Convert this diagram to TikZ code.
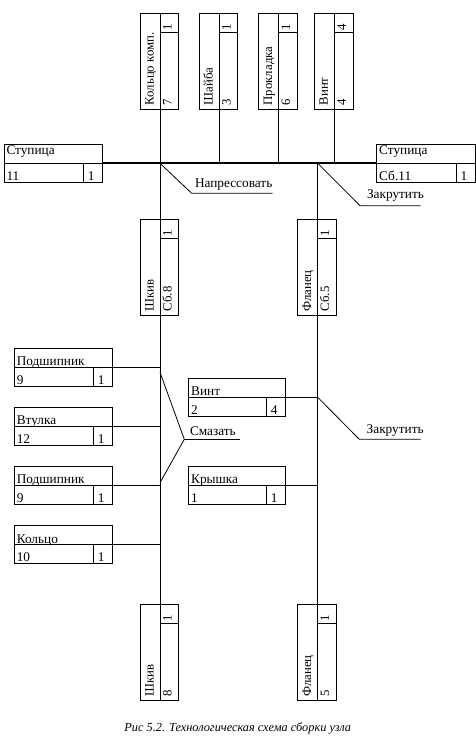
\documentclass[tikz,border=0pt]{standalone}
\usepackage{fontspec}
\setmainfont{Liberation Serif}
\tikzset{
  ln/.style={line width=0.8pt},
  thick line/.style={line width=2pt},
  txt/.style={inner sep=0pt, outer sep=0pt, font=\fontsize{13.3}{15}\selectfont},
  rtxt/.style={inner sep=0pt, outer sep=0pt, rotate=90, anchor=base west, font=\fontsize{12.8}{15}\selectfont},
  boxnode/.style={draw, ln, inner sep=0pt, outer sep=0pt, anchor=north west},
  caption/.style={inner sep=0pt, font=\fontsize{12.3}{14}\selectfont\itshape},
}
% vertical part: #1 name, #2 x of divider, #3 top y, #4 label, #5 number, #6 quantity
\newcommand{\vpart}[6]{%
  \node[boxnode, minimum width=38.7, minimum height=96] (#1) at (#2-20,#3) {};
  \coordinate (#1-top) at (#2,#3);
  \coordinate (#1-bot) at (#2,#3+96);
  \draw[ln] (#1-top) -- (#1-bot);
  \draw[ln] (#2,#3+19) -- (#2+18.7,#3+19);
  \node[rtxt] (#1-l) at (#2-6.5,#3+92) {#4};
  \node[rtxt] (#1-n) at (#2+11.5,#3+92) {#5};
  \node[rtxt] (#1-q) at (#2+11.5,#3+17.5) {#6};
}
% horizontal part: #1 name, #2 left x, #3 top y, #4 right x, #5 label, #6 number, #7 quantity, #8 label baseline offset
\newcommand{\hpart}[8]{%
  \node[boxnode, minimum width={#4-#2}, minimum height=38] (#1) at (#2,#3) {};
  \draw[ln] (#1.west) -- (#1.east);
  \draw[ln] (#4-18.5,#3+19) -- (#4-18.5,#3+38);
  \node[txt, anchor=base west] (#1-l) at (#2+2.5,#3+#8) {#5};
  \node[txt, anchor=base west] (#1-n) at (#2+2.5,#3+36) {#6};
  \node[txt, anchor=base west] (#1-q) at (#4-14.5,#3+36) {#7};
}
\begin{document}
\begin{tikzpicture}[x=1pt, y=-1pt]
  \useasboundingbox (0,0) rectangle (476,744);
  % top row of parts
  \vpart{kk}{160}{13.3}{Кольцо комп.}{7}{1}
  \vpart{sh}{219}{13.3}{Шайба}{3}{1}
  \vpart{pr}{278.7}{13.3}{Прокладка}{6}{1}
  \vpart{vt}{334.3}{13.3}{Винт}{4}{4}
  % hubs
  \hpart{stL}{4}{144.3}{102.3}{Ступица}{11}{1}{10.5}
  \hpart{stR}{376.7}{144.3}{475}{Ступица}{Сб.11}{1}{10.5}
  % sub-assemblies
  \vpart{sk1}{160}{219.3}{Шкив}{Сб.8}{1}
  \vpart{fl1}{317.7}{219.3}{Фланец}{Сб.5}{1}
  \vpart{sk2}{160}{604.3}{Шкив}{8}{1}
  \vpart{fl2}{317.7}{604.3}{Фланец}{5}{1}
  % left parts
  \hpart{pd1}{14.3}{348.3}{112.3}{Подшипник}{9}{1}{17.5}
  \hpart{vtl}{14.3}{407.3}{112.3}{Втулка}{12}{1}{17.5}
  \hpart{pd2}{14.3}{466.3}{112.3}{Подшипник}{9}{1}{17.5}
  \hpart{klc}{14.3}{525.7}{112.3}{Кольцо}{10}{1}{17.5}
  % right parts
  \hpart{vt2}{188.7}{378.3}{285.3}{Винт}{2}{4}{17.5}
  \hpart{kr}{188.7}{466.3}{285.3}{Крышка}{1}{1}{17.5}
  % main line
  \draw[thick line] (stL.east) -- (stR.west);
  \coordinate (jL) at (kk-bot |- stL.east);
  \coordinate (jR) at (fl1-top |- stL.east);
  % vertical trunks
  \draw[ln] (kk-bot) -- (sk1-top);
  \draw[ln] (sh-bot) -- (sh-bot |- stL.east);
  \draw[ln] (pr-bot) -- (pr-bot |- stL.east);
  \draw[ln] (vt-bot) -- (vt-bot |- stL.east);
  \draw[ln] (jR) -- (fl1-top);
  \draw[ln] (sk1-bot) -- (sk2-top);
  \draw[ln] (fl1-bot) -- (fl2-top);
  % side connectors
  \draw[ln] (pd1.east) -- (pd1.east -| sk1-bot);
  \draw[ln] (vtl.east) -- (vtl.east -| sk1-bot);
  \draw[ln] (pd2.east) -- (pd2.east -| sk1-bot);
  \draw[ln] (klc.east) -- (klc.east -| sk1-bot);
  \draw[ln] (vt2.east) -- (vt2.east -| fl1-bot);
  \draw[ln] (kr.east) -- (kr.east -| fl1-bot);
  % operation labels
  \coordinate (napA) at (191.7,193.3);
  \coordinate (napB) at (272.7,193.3);
  \draw[ln] (jL) -- (napA) -- (napB);
  \node[txt, anchor=base west] (nap) at (195,187.5) {Напрессовать};
  \coordinate (zk1A) at (360,205.7);
  \coordinate (zk1B) at (420.7,205.7);
  \draw[ln] (jR) -- (zk1A) -- (zk1B);
  \node[txt, anchor=base west] (zk1) at (367,198.5) {Закрутить};
  \coordinate (smT) at (160,372.3);
  \coordinate (smA) at (184.3,439.3);
  \coordinate (smB) at (240,439.3);
  \coordinate (smD) at (160,482.7);
  \draw[ln] (smT) -- (smA) -- (smD);
  \draw[ln] (smA) -- (smB);
  \node[txt, anchor=base west] (sm) at (190,435.3) {Смазать};
  \coordinate (zk2J) at (vt2.east -| fl1-bot);
  \coordinate (zk2A) at (359.3,439.3);
  \coordinate (zk2B) at (420.7,439.3);
  \draw[ln] (zk2J) -- (zk2A) -- (zk2B);
  \node[txt, anchor=base west] (zk2) at (366.7,433) {Закрутить};
  % caption
  \node[caption, anchor=base] (cap) at (237.7,731) {Рис 5.2. Технологическая схема сборки узла};
\end{tikzpicture}
\end{document}
